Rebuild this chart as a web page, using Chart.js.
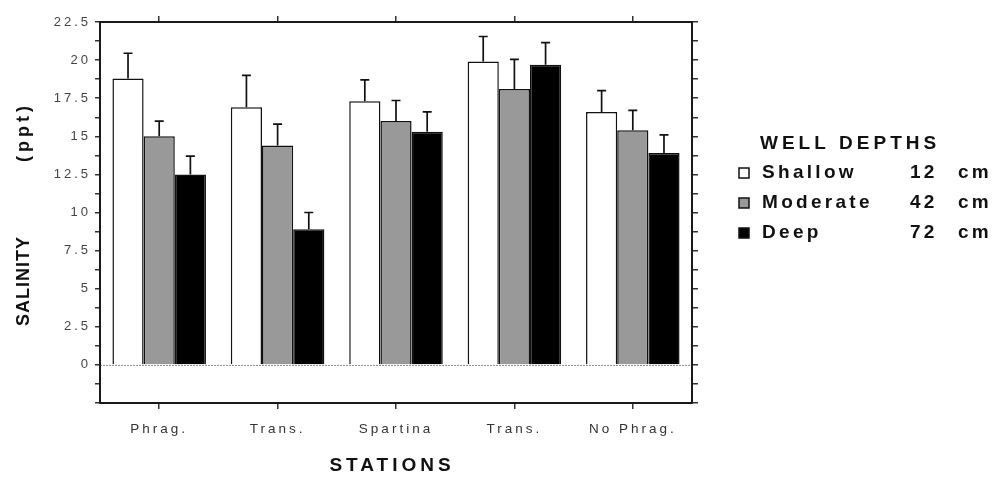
<!DOCTYPE html>
<html>
<head>
<meta charset="utf-8">
<script src="https://cdn.jsdelivr.net/npm/chart.js@4/dist/chart.umd.min.js"></script>
<style>
  html, body { margin: 0; padding: 0; background: #fff; }
  #wrap { width: 999px; height: 479px; }
</style>
</head>
<body>
<div id="wrap"><canvas id="salinityChart" width="999" height="479"></canvas></div>
<script>
// values (ppt)
const stations = ['Phrag.', 'Trans.', 'Spartina', 'Trans.', 'No Phrag.'];
const shallow = [18.8, 16.9, 17.3, 19.9, 16.6];
const moderate = [15.0, 14.4, 16.0, 18.1, 15.4];
const deep = [12.5, 8.9, 15.3, 19.7, 13.9];
const shallowErr = [1.65, 2.1, 1.4, 1.65, 1.4];
const moderateErr = [1.0, 1.4, 1.35, 1.95, 1.3];
const deepErr = [1.2, 1.1, 1.3, 1.45, 1.2];
const yLabels = [0, 2.5, 5, 7.5, 10, 12.5, 15, 17.5, 20, 22.5];
const depthNames = ['Shallow', 'Moderate', 'Deep'];
const depthCm = ['12', '42', '72'];

const FONT = '"Liberation Sans", Arial, Helvetica, sans-serif';

function isLabelled(v) {
    return yLabels.some(t => Math.abs(t - v) < 1e-6);
}

const errorBars = {
    id: 'errorBars',
    afterDatasetsDraw(chart) {
        const ctx = chart.ctx;
        const y = chart.scales.y;
        ctx.save();
        ctx.strokeStyle = '#111';
        ctx.lineWidth = 1.7;
        chart.data.datasets.forEach((ds, i) => {
            const meta = chart.getDatasetMeta(i);
            meta.data.forEach((bar, j) => {
                const top = y.getPixelForValue(ds.data[j] + ds.errors[j]);
                ctx.beginPath();
                ctx.moveTo(bar.x, bar.y);
                ctx.lineTo(bar.x, top);
                ctx.moveTo(bar.x - 4.5, top);
                ctx.lineTo(bar.x + 4.5, top);
                ctx.stroke();
            });
        });
        ctx.restore();
    }
};

const frame = {
    id: 'frame',
    beforeDraw(chart) {
        chart.ctx.letterSpacing = '3px';
    },
    beforeDatasetsDraw(chart) {
        const ctx = chart.ctx;
        const a = chart.chartArea;
        const y0 = chart.scales.y.getPixelForValue(0);
        ctx.letterSpacing = '0px';
        ctx.save();
        ctx.strokeStyle = '#888';
        ctx.lineWidth = 1;
        ctx.setLineDash([2, 1]);
        ctx.beginPath();
        ctx.moveTo(a.left, y0 + 0.5);
        ctx.lineTo(a.right, y0 + 0.5);
        ctx.stroke();
        ctx.restore();
    },
    afterDraw(chart) {
        const ctx = chart.ctx;
        const a = chart.chartArea;
        ctx.save();
        ctx.strokeStyle = '#1a1a1a';
        ctx.lineWidth = 2;
        ctx.strokeRect(a.left, a.top, a.right - a.left, a.bottom - a.top);

        // axis titles
        ctx.fillStyle = '#111';
        ctx.textAlign = 'center';
        ctx.textBaseline = 'middle';
        ctx.font = 'bold 19px ' + FONT;
        ctx.letterSpacing = '4px';
        ctx.fillText('STATIONS', 392, 466);

        ctx.save();
        ctx.translate(24, 0);
        ctx.rotate(-Math.PI / 2);
        ctx.font = 'bold 18px ' + FONT;
        ctx.letterSpacing = '1px';
        ctx.fillText('SALINITY', -281, 0);
        ctx.letterSpacing = '4px';
        ctx.fillText('(ppt)', -132, 0);
        ctx.restore();

        // legend
        ctx.textAlign = 'left';
        ctx.font = 'bold 19px ' + FONT;
        ctx.letterSpacing = '4px';
        ctx.fillText('WELL DEPTHS', 760, 144);
        chart.data.datasets.forEach((ds, i) => {
            const cy = 173 + i * 30;
            ctx.fillStyle = ds.backgroundColor;
            ctx.fillRect(739, cy - 5, 10, 10);
            ctx.strokeStyle = '#111';
            ctx.lineWidth = 1.5;
            ctx.strokeRect(739, cy - 5, 10, 10);
            ctx.fillStyle = '#111';
            ctx.letterSpacing = '3.3px';
            ctx.fillText(ds.label, 762, cy);
            ctx.fillText(depthCm[i], 910, cy);
            ctx.fillText('cm', 958, cy);
        });
        ctx.restore();
        ctx.letterSpacing = '0px';
    }
};

const tickFont = { family: FONT, size: 13 };

new Chart(document.getElementById('salinityChart'), {
    type: 'bar',
    data: {
        labels: stations,
        datasets: [
            { label: depthNames[0], data: shallow, errors: shallowErr, backgroundColor: '#ffffff' },
            { label: depthNames[1], data: moderate, errors: moderateErr, backgroundColor: '#999999' },
            { label: depthNames[2], data: deep, errors: deepErr, backgroundColor: '#000000' }
        ].map(d => Object.assign(d, {
            borderColor: '#111',
            borderWidth: 1.5,
            borderSkipped: 'bottom',
            categoryPercentage: 0.79,
            barPercentage: 1.0
        }))
    },
    options: {
        responsive: false,
        animation: false,
        layout: { padding: 0 },
        plugins: {
            legend: { display: false },
            tooltip: { enabled: false }
        },
        scales: {
            x: {
                position: 'bottom',
                offset: true,
                border: { display: false },
                grid: { drawOnChartArea: false, offset: false, tickLength: 6, color: '#333', lineWidth: 1.5 },
                ticks: { font: { family: FONT, size: 13.5 }, color: '#333', padding: 12, maxRotation: 0, autoSkip: false },
                afterFit(s) { s.height = 76; }
            },
            x2: {
                position: 'top',
                type: 'category',
                offset: true,
                border: { display: false },
                grid: { drawOnChartArea: false, offset: false, tickLength: 6, color: '#333', lineWidth: 1.5 },
                ticks: { display: false },
                afterFit(s) { s.height = 22; }
            },
            y: {
                position: 'left',
                min: -2.5,
                max: 22.5,
                border: { display: false },
                grid: { drawOnChartArea: false, tickLength: 5, color: '#333', lineWidth: 1.5 },
                ticks: {
                    stepSize: 1.25,
                    autoSkip: false,
                    font: tickFont,
                    color: '#444',
                    padding: 4,
                    callback: v => (v >= 0 && isLabelled(v)) ? String(v) : ''
                },
                afterFit(s) { s.width = 100; }
            },
            y2: {
                position: 'right',
                min: -2.5,
                max: 22.5,
                border: { display: false },
                grid: { drawOnChartArea: false, tickLength: 6, color: '#333', lineWidth: 1.5 },
                ticks: { stepSize: 1.25, autoSkip: false, display: false },
                afterFit(s) { s.width = 307; }
            }
        }
    },
    plugins: [frame, errorBars]
});
</script>
</body>
</html>
